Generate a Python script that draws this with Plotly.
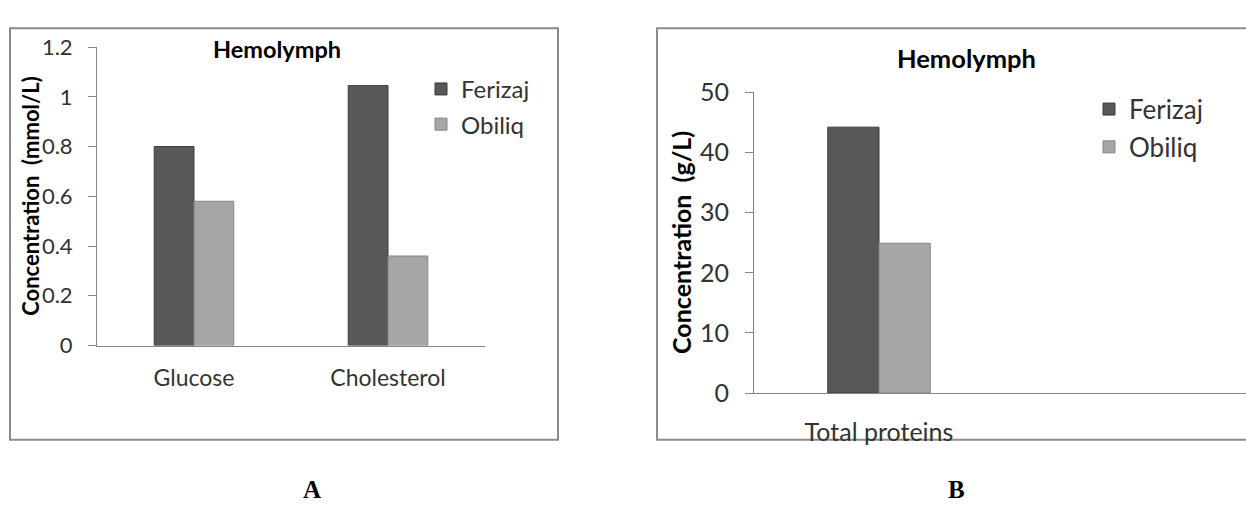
import plotly.graph_objects as go

W, H = 1246, 513

# ---- data ----
categories_a = ["Glucose", "Cholesterol"]
ferizaj_a = [0.80, 1.045]
obiliq_a = [0.58, 0.36]

categories_b = ["Total proteins"]
ferizaj_b = [44.2]
obiliq_b = [24.9]

series_names = ["Ferizaj", "Obiliq"]
yticks_a = [0, 0.2, 0.4, 0.6, 0.8, 1, 1.2]
yticks_b = [0, 10, 20, 30, 40, 50]

# ---- style ----
FONT = "Lato"
DARK = "#585858"
DARK_LINE = "#3c3c3c"
LIGHT = "#a6a6a6"
LIGHT_LINE = "#858585"
AXIS = "#868686"
TXT = "#333333"


def px(x):
    return x / W


def py(y):
    return 1 - y / H


fig = go.Figure()

fig.add_trace(go.Bar(x=categories_a, y=ferizaj_a, name=series_names[0],
                     marker=dict(color=DARK, line=dict(color=DARK_LINE, width=1)),
                     xaxis="x", yaxis="y", legend="legend", legendgroup="fa"))
fig.add_trace(go.Bar(x=categories_a, y=obiliq_a, name=series_names[1],
                     marker=dict(color=LIGHT, line=dict(color=LIGHT_LINE, width=1)),
                     xaxis="x", yaxis="y", legend="legend", legendgroup="oa"))
fig.add_trace(go.Bar(x=categories_b, y=ferizaj_b, name=series_names[0],
                     marker=dict(color=DARK, line=dict(color=DARK_LINE, width=1)),
                     xaxis="x2", yaxis="y2", legend="legend2", legendgroup="fb"))
fig.add_trace(go.Bar(x=categories_b, y=obiliq_b, name=series_names[1],
                     marker=dict(color=LIGHT, line=dict(color=LIGHT_LINE, width=1)),
                     xaxis="x2", yaxis="y2", legend="legend2", legendgroup="ob"))

common_y = dict(showgrid=False, zeroline=False, showline=True, linecolor=AXIS,
                linewidth=1, ticks="outside", ticklen=8, tickcolor=AXIS, tickwidth=1)
common_x = dict(showgrid=False, zeroline=False, showline=True, linecolor=AXIS,
                linewidth=1, ticks="", type="category")

fig.update_layout(
    width=W, height=H, autosize=False,
    margin=dict(l=0, r=0, t=0, b=0),
    paper_bgcolor="white", plot_bgcolor="white",
    font=dict(family=FONT, color=TXT),
    barmode="group", bargap=0.59, bargroupgap=0,
    xaxis=dict(domain=[px(97), px(485)], range=[-0.5, 1.5], anchor="y",
               tickfont=dict(size=23, color=TXT), ticklabelstandoff=12, **common_x),
    yaxis=dict(domain=[py(350), py(33)], range=[0, 1.2], anchor="x",
               tickvals=yticks_a, ticktext=[f"{v:g}" for v in yticks_a],
               tickfont=dict(size=22, color=TXT), ticklabelstandoff=11, **common_y),
    xaxis2=dict(domain=[px(754), 1.0], range=[-0.5, (W - 754) / 250 - 0.5], anchor="y2",
                tickfont=dict(size=25, color=TXT), ticklabelstandoff=17, **common_x),
    yaxis2=dict(domain=[py(400.5), py(81)], range=[0, 50], anchor="x2",
                tickvals=yticks_b, ticktext=[str(v) for v in yticks_b],
                tickfont=dict(size=25, color=TXT), ticklabelstandoff=11, **common_y),
    legend=dict(x=px(421), y=py(54), xanchor="left", yanchor="top",
                font=dict(size=24, color=TXT), bgcolor="rgba(0,0,0,0)",
                traceorder="grouped", tracegroupgap=1),
    legend2=dict(x=px(1089), y=py(74), xanchor="left", yanchor="top",
                 font=dict(size=26, color=TXT), bgcolor="rgba(0,0,0,0)",
                 traceorder="grouped", tracegroupgap=1),
    showlegend=True,
)

# panel borders
fig.add_shape(type="rect", xref="paper", yref="paper",
              x0=px(10), x1=px(558), y0=py(450), y1=py(13),
              line=dict(color="#8c8c8c", width=2), layer="below")
fig.add_shape(type="rect", xref="paper", yref="paper",
              x0=px(657), x1=px(1262), y0=py(450), y1=py(13),
              line=dict(color="#8c8c8c", width=2), layer="below")

ann = []
ann.append(dict(text="<b>Hemolymph</b>", x=px(277), y=py(35), xref="paper", yref="paper",
                showarrow=False, font=dict(size=23.5, color="black", family=FONT),
                xanchor="center", yanchor="middle"))
ann.append(dict(text="<b>Hemolymph</b>", x=px(967), y=py(45), xref="paper", yref="paper",
                showarrow=False, font=dict(size=25.5, color="black", family=FONT),
                xanchor="center", yanchor="middle"))
ann.append(dict(text="<b>Concentration\u00a0 (mmol/L)</b>", x=px(31), y=py(191),
                xref="paper", yref="paper", showarrow=False, textangle=-90,
                font=dict(size=22, color="black", family=FONT),
                xanchor="center", yanchor="middle"))
ann.append(dict(text="<b>Concentration\u00a0 (g/L)</b>", x=px(681), y=py(241),
                xref="paper", yref="paper", showarrow=False, textangle=-90,
                font=dict(size=25, color="black", family=FONT),
                xanchor="center", yanchor="middle"))
ann.append(dict(text="<b>A</b>", x=px(312), y=py(503), xref="paper", yref="paper",
                showarrow=False, font=dict(size=25, color="black", family="Liberation Serif"),
                xanchor="center", yanchor="middle"))
ann.append(dict(text="<b>B</b>", x=px(956), y=py(503), xref="paper", yref="paper",
                showarrow=False, font=dict(size=25, color="black", family="Liberation Serif"),
                xanchor="center", yanchor="middle"))
fig.update_layout(annotations=ann)

fig.write_html(
    "out.html",
    config={"displayModeBar": False},
    post_script="document.documentElement.style.margin='0';"
                "document.body.style.margin='0';"
                "document.body.style.overflow='hidden';",
)
